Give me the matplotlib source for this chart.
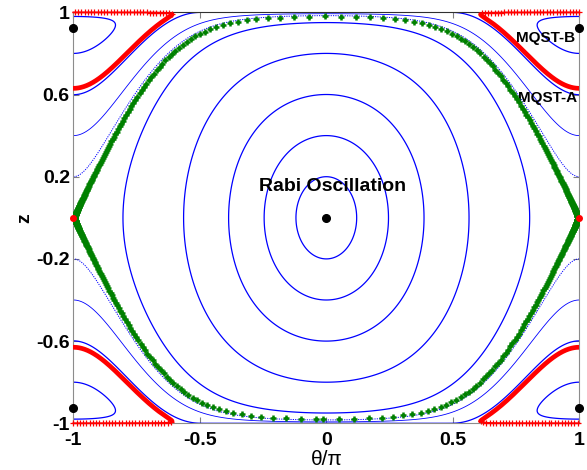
import numpy as np
import matplotlib
matplotlib.use('Agg')
import matplotlib.pyplot as plt

plt.rcParams['font.family'] = ['Liberation Sans', 'DejaVu Sans']
plt.rcParams['axes.unicode_minus'] = False
plt.rcParams['contour.negative_linestyle'] = 'solid'

lam = 2.5  # nonlinearity, read from fixed points and separatrix

# starting imbalance z0 of each orbit (where it crosses theta=0 or theta=pi)
rabi_z0 = [0.2, 0.4, 0.6, 0.8, 0.95]   # theta = 0, Rabi orbits
run_z0 = [0.599]                       # theta = pi, running orbit next to MQST-A
run_thin_z0 = [0.4]                    # theta = pi, thin running orbit
run_dot_z0 = [0.2]                     # theta = pi, dotted, close to separatrix
loop_z0 = [0.8]                        # theta = pi, loop round MQST-B point
red_z0 = 0.63                          # MQST-A trajectory
sep_level = 0.9998                     # separatrix (green)
dt = 0.027                             # time step between markers

black_x = [0, -1, -1, 1, 1]
black_z = [0, 0.925, -0.925, 0.925, -0.925]
red_x = [-1, 1]
red_z = [0, 0]

xticks = [-1, -0.5, 0, 0.5, 1]
xtick_labels = ['-1', '-0.5', '0', '0.5', '1']
yticks = [-1, -0.6, -0.2, 0.2, 0.6, 1]
ytick_labels = ['-1', '-0.6', '-0.2', '0.2', '0.6', '1']


def energy(th, z):
    z = np.asarray(z, dtype=float)
    s = np.sqrt(np.clip(1 - z**2, 0, None))
    return lam * z**2 / 2 - s * np.cos(th)


def grad(th, z):
    s = np.sqrt(np.clip(1 - z**2, 1e-12, None))
    return lam * z + z * np.cos(th) / s, s * np.sin(th)


th = np.linspace(-np.pi, np.pi, 1201)
zz = np.sin(np.linspace(-np.pi / 2, np.pi / 2, 2001))
TH, ZZ = np.meshgrid(th, zz)
H = energy(TH, ZZ)
X = TH / np.pi

fig = plt.figure(figsize=(5.87, 4.70), dpi=100)
ax = fig.add_axes([0.1249, 0.0994, 0.862, 0.8744])

# blue orbits
ax.contour(X, ZZ, H, levels=sorted(energy(0, rabi_z0)), colors='b', linewidths=0.9,
           linestyles='solid')
ax.contour(X, ZZ, H, levels=sorted(energy(np.pi, run_z0 + loop_z0)), colors='b',
           linewidths=0.9, linestyles='solid')
ax.contour(X, ZZ, H, levels=energy(np.pi, run_thin_z0), colors='b', linewidths=0.6,
           linestyles='solid')
ax.contour(X, ZZ, H, levels=energy(np.pi, run_dot_z0), colors='b', linewidths=0.7,
           linestyles=[(0, (1.2, 1.2))])

# separatrix, markers at equal time steps
cs = ax.contour(X, ZZ, H, levels=[sep_level])
segs = cs.allsegs[0]
cs.remove()
for seg in segs:
    t_ = seg[:, 0] * np.pi
    z_ = seg[:, 1]
    gz, gt = grad((t_[1:] + t_[:-1]) / 2, (z_[1:] + z_[:-1]) / 2)
    ds = np.hypot(np.diff(t_), np.diff(z_))
    tcum = np.concatenate([[0], np.cumsum(ds / np.hypot(gz, gt))])
    tt = np.arange(0, tcum[-1], dt)
    ax.plot(np.interp(tt, tcum, t_) / np.pi, np.interp(tt, tcum, z_), '+',
            color=(0, 0.5, 0), ms=4.5, mew=1.8, zorder=4)

# MQST-A trajectory
cs = ax.contour(X, ZZ, H, levels=[float(energy(np.pi, red_z0))])
segs = cs.allsegs[0]
cs.remove()
for seg in segs:
    top = np.abs(seg[:, 1]) > 0.99
    edges = np.flatnonzero(np.diff(top.astype(int))) + 1
    for part, flag in zip(np.split(seg, edges), np.split(top, edges)):
        if flag[0]:
            ax.plot(part[:, 0], part[:, 1], '-', color='r', lw=1.2, marker='+',
                    ms=4, mew=0.9, markevery=0.005, clip_on=False, zorder=5)
        else:
            ax.plot(part[:, 0], part[:, 1], '-', color='r', lw=3.4,
                    solid_capstyle='round', zorder=5)

ax.plot(black_x, black_z, 'o', color='k', ms=5.5, clip_on=False, zorder=6)
ax.plot(red_x, red_z, 'o', color='r', ms=4, clip_on=False, zorder=6)

ax.text(0.023, 0.153, 'Rabi Oscillation', ha='center', va='center',
        fontsize=14, fontweight='bold')
ax.text(0.983, 0.873, 'MQST-B', ha='right', va='center', fontsize=11, fontweight='bold')
ax.text(0.99, 0.581, 'MQST-A', ha='right', va='center', fontsize=11, fontweight='bold')

ax.set_xlim(-1, 1)
ax.set_ylim(-1, 1)
ax.set_xticks(xticks)
ax.set_xticklabels(xtick_labels)
ax.set_yticks(yticks)
ax.set_yticklabels(ytick_labels)
ax.tick_params(direction='in', length=4, color='#808080', top=True, right=True,
               labelsize=14)
ax.tick_params(axis='x', pad=6)
ax.tick_params(axis='y', pad=2.5)
for lab in ax.get_xticklabels() + ax.get_yticklabels():
    lab.set_fontweight('bold')
for side in ['left', 'bottom', 'right']:
    ax.spines[side].set_color('#8c8c8c')
ax.spines['top'].set_color('#303030')

ax.set_xlabel('θ/π', fontsize=15, labelpad=1)
ax.set_ylabel('z', fontsize=14, fontweight='bold', labelpad=2)

fig.savefig('out.png', dpi=100)
